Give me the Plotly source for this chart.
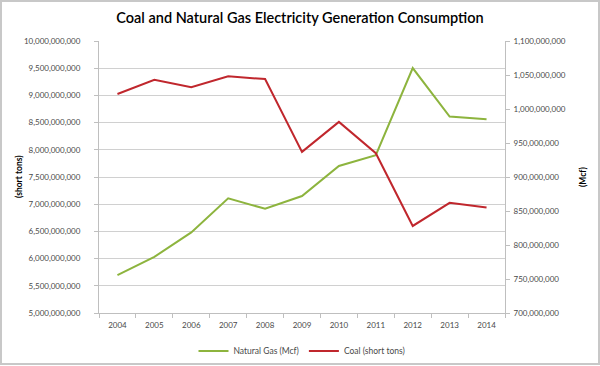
import plotly.graph_objects as go

years = ["2004", "2005", "2006", "2007", "2008", "2009", "2010", "2011", "2012", "2013", "2014"]
natural_gas_mcf = [5695e6, 6032e6, 6482e6, 7108e6, 6916e6, 7150e6, 7703e6, 7900e6, 9503e6, 8611e6, 8563e6]
coal_short_tons = [1022e6, 1043e6, 1032e6, 1048e6, 1044e6, 937e6, 981e6, 935e6, 828e6, 862e6, 855e6]

FONT = "Lato"
GRAY = "#4a4a4a"
AX = "#bfbfbf"

fig = go.Figure()
fig.add_trace(go.Scatter(x=years, y=natural_gas_mcf, mode="lines", name="Natural Gas (Mcf)",
                         line=dict(color="#8db43e", width=2), yaxis="y"))
fig.add_trace(go.Scatter(x=years, y=coal_short_tons, mode="lines", name="Coal (short tons)",
                         line=dict(color="#c0272d", width=2), yaxis="y2"))

ml, mr, mt, mb = 99, 95, 41, 53
W, H = 600, 366
pw, ph = W - ml - mr, H - mt - mb

fig.update_layout(
    width=W, height=H,
    margin=dict(l=ml, r=mr, t=mt, b=mb, autoexpand=False),
    paper_bgcolor="white", plot_bgcolor="white",
    font=dict(family=FONT, size=8, color=GRAY),
    title=dict(text="Coal and Natural Gas Electricity Generation Consumption",
               x=0.5, xanchor="center", y=1 - 18 / H, yanchor="middle", yref="container",
               font=dict(family=FONT, size=14.5, color="#000000", weight=600)),
    xaxis=dict(type="category", range=[-0.5, 10.5], tickson="boundaries", ticks="outside",
               ticklen=4, tickcolor=AX, showline=True, linecolor=AX, linewidth=1,
               showgrid=False, tickfont=dict(size=8, color=GRAY), ticklabelstandoff=4),
    yaxis=dict(range=[5e9, 10e9], dtick=5e8, tickformat=",d", ticks="outside", ticklen=4,
               tickcolor=AX, showline=True, linecolor=AX, gridcolor="#d0d0d0", gridwidth=1,
               zeroline=False, tickfont=dict(size=8, color=GRAY), ticklabelstandoff=12),
    yaxis2=dict(range=[7e8, 11e8], dtick=5e7, tickformat=",d", ticks="outside", ticklen=4,
                tickcolor=AX, showline=True, linecolor=AX, showgrid=False, zeroline=False,
                overlaying="y", side="right", tickfont=dict(size=8, color=GRAY), ticklabelstandoff=2),
    legend=dict(orientation="h", x=0.5, xanchor="center", y=-(351 - 313) / ph, yanchor="middle",
                font=dict(size=8.5, color=GRAY), bgcolor="rgba(0,0,0,0)"),
    showlegend=True,
)

fig.add_annotation(text="(short tons)", xref="paper", yref="paper", x=(19 - ml) / pw, y=0.5,
                   textangle=-90, showarrow=False, font=dict(size=8.5, color="#000000", weight="bold"),
                   xanchor="center", yanchor="middle")
fig.add_annotation(text="(Mcf)", xref="paper", yref="paper", x=(583 - ml) / pw, y=0.5,
                   textangle=-90, showarrow=False, font=dict(size=8.5, color="#000000", weight="bold"),
                   xanchor="center", yanchor="middle")

fig.add_shape(type="rect", xref="paper", yref="paper",
              x0=(1 - ml) / pw, x1=(599 - ml) / pw, y0=(313 - 364) / ph, y1=(313 - 1) / ph,
              line=dict(color="#c8c8c8", width=2), fillcolor="rgba(0,0,0,0)", layer="below")

fig.write_html("out.html", config={"displayModeBar": False},
               post_script="document.body.style.margin='0';document.body.style.overflow='hidden';")
